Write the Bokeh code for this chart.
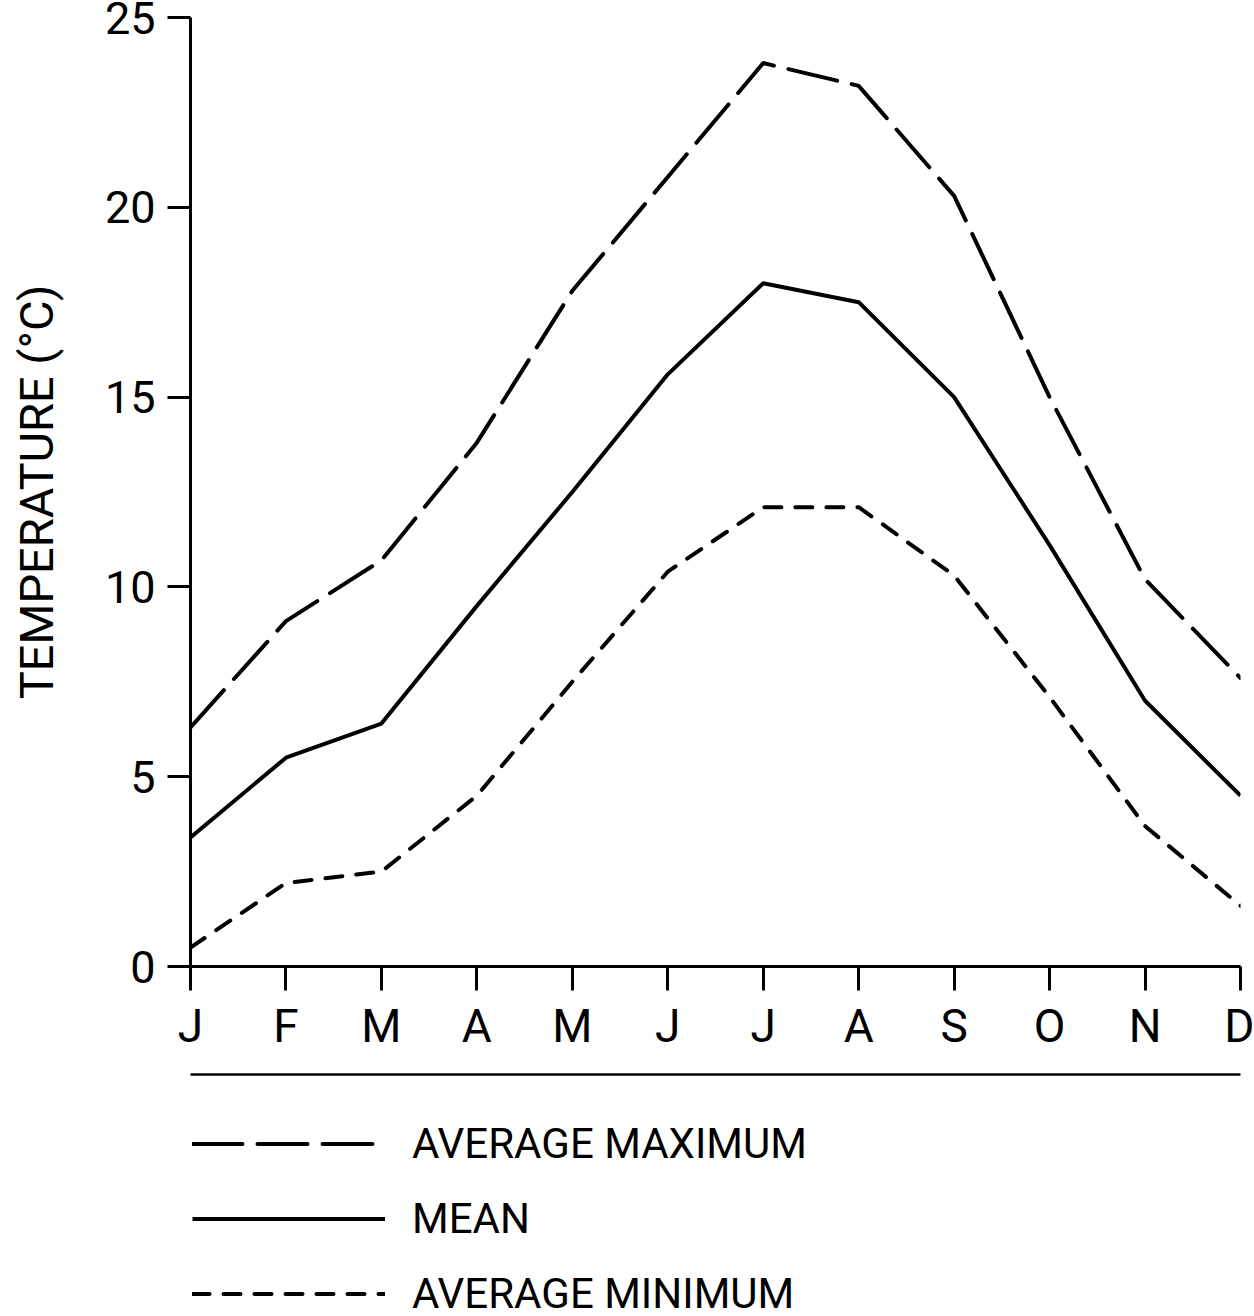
from bokeh.plotting import figure
from bokeh.layouts import column
from bokeh.models import Range1d, LinearAxis, FixedTicker, Legend, LegendItem
from bokeh.embed import file_html
from bokeh.resources import INLINE

months = ["J", "F", "M", "A", "M", "J", "J", "A", "S", "O", "N", "D"]
month_idx = list(range(12))
avg_max = [6.3, 9.1, 10.7, 13.8, 17.8, 20.8, 23.8, 23.2, 20.3, 15.0, 10.2, 7.6]
mean_t = [3.4, 5.5, 6.4, 9.5, 12.5, 15.6, 18.0, 17.5, 15.0, 11.1, 7.0, 4.5]
avg_min = [0.5, 2.2, 2.5, 4.5, 7.5, 10.4, 12.1, 12.1, 10.3, 7.1, 3.7, 1.6]
y_ticks = [0, 5, 10, 15, 20, 25]
series_labels = ["AVERAGE MAXIMUM", "MEAN", "AVERAGE MINIMUM"]

FONT = "Roboto"
STYLES = [dict(line_dash="50 15", line_cap="round"),
          dict(line_dash="solid"),
          dict(line_dash="17 14", line_cap="round")]

MAIN_H = 1090
p = figure(width=1254, height=MAIN_H, output_backend="svg", toolbar_location=None,
           x_range=Range1d(0, 11), y_range=Range1d(0, 25),
           min_border_left=190, min_border_right=14, min_border_top=17,
           min_border_bottom=MAIN_H - 966,
           x_axis_location=None, y_axis_location=None)
p.grid.visible = False
p.outline_line_color = None
p.background_fill_color = "white"
p.border_fill_color = "white"

yaxis = LinearAxis(ticker=FixedTicker(ticks=y_ticks),
                   axis_label="TEMPERATURE (°C)")
yaxis.axis_line_width = 3
yaxis.major_tick_line_width = 3
yaxis.major_tick_out = 23
yaxis.major_tick_in = 0
yaxis.minor_tick_out = 0
yaxis.minor_tick_in = 0
yaxis.major_label_standoff = 12
yaxis.major_label_text_font = FONT
yaxis.major_label_text_font_size = "45px"
yaxis.major_label_text_color = "black"
yaxis.axis_label_standoff = 38
yaxis.axis_label_text_font = FONT
yaxis.axis_label_text_font_size = "47px"
yaxis.axis_label_text_font_style = "normal"
yaxis.axis_label_text_color = "black"
p.add_layout(yaxis, "left")

xaxis = LinearAxis(ticker=FixedTicker(ticks=month_idx),
                   major_label_overrides={i: m for i, m in zip(month_idx, months)})
xaxis.axis_line_width = 3
xaxis.major_tick_line_width = 3
xaxis.major_tick_out = 24
xaxis.major_tick_in = 0
xaxis.minor_tick_out = 0
xaxis.minor_tick_in = 0
xaxis.major_label_standoff = 8
xaxis.major_label_text_font = FONT
xaxis.major_label_text_font_size = "46px"
xaxis.major_label_text_color = "black"
xaxis.axis_label = " "
xaxis.axis_label_text_font_size = "1px"
xaxis.axis_label_standoff = 15
p.add_layout(xaxis, "below")

sep = LinearAxis(ticker=FixedTicker(ticks=[]))
sep.axis_line_width = 2.5
sep.major_tick_out = 0
sep.major_tick_in = 0
sep.minor_tick_out = 0
sep.minor_tick_in = 0
sep.major_label_text_font_size = "0px"
p.add_layout(sep, "below")

series = [avg_max, mean_t, avg_min]
for vals, st in zip(series, STYLES):
    p.line(month_idx, vals, line_color="black", line_width=4, **st)

# legend panel below the chart (its own key samples, no data drawn)
p2 = figure(width=1254, height=1316 - MAIN_H, output_backend="svg",
            toolbar_location=None, x_range=Range1d(0, 1), y_range=Range1d(0, 1),
            min_border=0, x_axis_location=None, y_axis_location=None)
p2.grid.visible = False
p2.outline_line_color = None
p2.background_fill_color = "white"
p2.border_fill_color = "white"

items = []
for lab, st in zip(series_labels, STYLES):
    r = p2.line(x=[float("nan")], y=[float("nan")], line_color="black",
                line_width=4, **st)
    items.append(LegendItem(label=lab, renderers=[r]))

legend = Legend(items=items, location=(2, -2), orientation="vertical")
legend.border_line_color = None
legend.background_fill_alpha = 0
legend.padding = 0
legend.margin = 0
legend.spacing = 26
legend.glyph_width = 193
legend.glyph_height = 49
legend.label_height = 49
legend.label_standoff = 27
legend.label_text_font = FONT
legend.label_text_font_size = "42px"
legend.label_text_color = "black"
p2.add_layout(legend, "center")

open("out.html", "w").write(file_html(column(p, p2), INLINE))
